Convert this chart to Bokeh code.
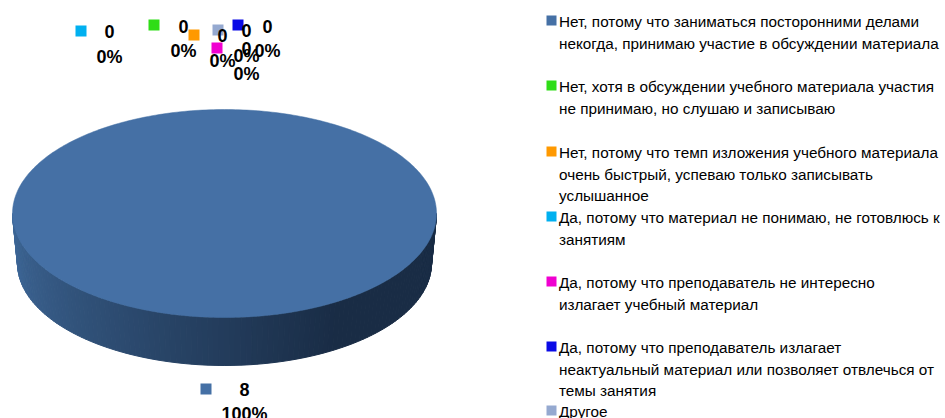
import numpy as np
from bokeh.plotting import figure
from bokeh.models import Range1d, ColumnDataSource
from bokeh.core.properties import value
from bokeh.embed import file_html
from bokeh.resources import INLINE

categories = [
    ["Нет, потому что заниматься посторонними делами", "некогда, принимаю участие в обсуждении материала"],
    ["Нет, хотя в обсуждении учебного материала участия", "не принимаю, но слушаю и записываю"],
    ["Нет, потому что темп изложения учебного материала", "очень быстрый, успеваю только записывать", "услышанное"],
    ["Да, потому что материал не понимаю, не готовлюсь к", "занятиям"],
    ["Да, потому что преподаватель не интересно", "излагает учебный материал"],
    ["Да, потому что преподаватель излагает", "неактуальный материал или позволяет отвлечься от", "темы занятия"],
    ["Другое"],
]
counts = [8, 0, 0, 0, 0, 0, 0]
percents = ["100%", "0%", "0%", "0%", "0%", "0%", "0%"]
colors = ["#4570A5", "#2FDD17", "#FF9900", "#00B0F0", "#F000D0", "#0A0AE6", "#95A9D0"]

# layout (page pixels)
label_marker_x = [205.5, 153.5, 193.5, 80.5, 216.5, 237.5, 217.5]
label_marker_y = [388.5, 24.5, 34.5, 30.5, 47.5, 24.5, 29.5]
label_x = [244, 183, 222, 109, 246, 267, 246]
label_y1 = [389, 26, 35, 31, 48, 26, 30]
label_y2 = [413, 50, 60, 56, 73, 50, 55]
legend_y = [21, 86, 152, 217, 282, 347, 411]
line_step = 21.6

p = figure(width=945, height=418, output_backend="svg", toolbar_location=None,
           x_range=Range1d(0, 945), y_range=Range1d(418, 0), min_border=0,
           outline_line_color=None)
p.axis.visible = False
p.grid.visible = False
p.xaxis.visible = False
p.yaxis.visible = False

cx, cy, rx, ry = 224, 213, 212, 104
bcx, bcy, brx, bry = 224, 263, 207, 102

# side wall: strips along lower half, shaded left to right
c0 = np.array([0x40, 0x6A, 0x9B])
c1 = np.array([0x19, 0x2C, 0x45])
N = 120
th = np.linspace(np.pi, 0, N + 1)
xs, ys, cols = [], [], []
for i in range(N):
    a, b = th[i], th[i + 1]
    xs.append([cx + rx * np.cos(a), cx + rx * np.cos(b), bcx + brx * np.cos(b), bcx + brx * np.cos(a)])
    ys.append([cy + ry * np.sin(a), cy + ry * np.sin(b), bcy + bry * np.sin(b), bcy + bry * np.sin(a)])
    t = min(1.0, (i + 0.5) / N / 0.68)
    c = (c0 + (c1 - c0) * t).astype(int)
    cols.append("#%02x%02x%02x" % tuple(c))
p.patches(xs, ys, fill_color=cols, line_color=cols, line_width=1)

# top face from the values
total = sum(counts)
start = 0.0
for v, col in zip(counts, colors):
    if v == 0:
        continue
    end = start + v / total * 2 * np.pi
    t = np.linspace(start, end, 361)
    p.patch(cx + rx * np.cos(t), cy + ry * np.sin(t), fill_color=col, line_color=col, line_width=0.5)
    start = end

# data labels
p.rect(label_marker_x, label_marker_y, width=11, height=11, fill_color=colors, line_color=None)
lab = ColumnDataSource(dict(x=label_x + label_x, y=label_y1 + label_y2,
                            t=[str(c) for c in counts] + percents))
p.text("x", "y", text="t", source=lab, text_align="center", text_baseline="middle",
       text_font=value("Liberation Sans"), text_font_style="bold",
       text_font_size="18px", text_color="#000000")

# legend
mx = [551] * 7
my = [y - 1 for y in legend_y]
p.rect(mx, my, width=10, height=10, fill_color=colors, line_color=None)
tx, ty, tt = [], [], []
for y, lines in zip(legend_y, categories):
    for j, line in enumerate(lines):
        tx.append(558.5); ty.append(y + j * line_step); tt.append(line)
p.text(tx, ty, text=tt, text_align="left", text_baseline="middle",
       text_font=value("Liberation Sans"), text_font_size="15.3px", text_color="#000000")

open("out.html", "w").write(file_html(p, INLINE))
